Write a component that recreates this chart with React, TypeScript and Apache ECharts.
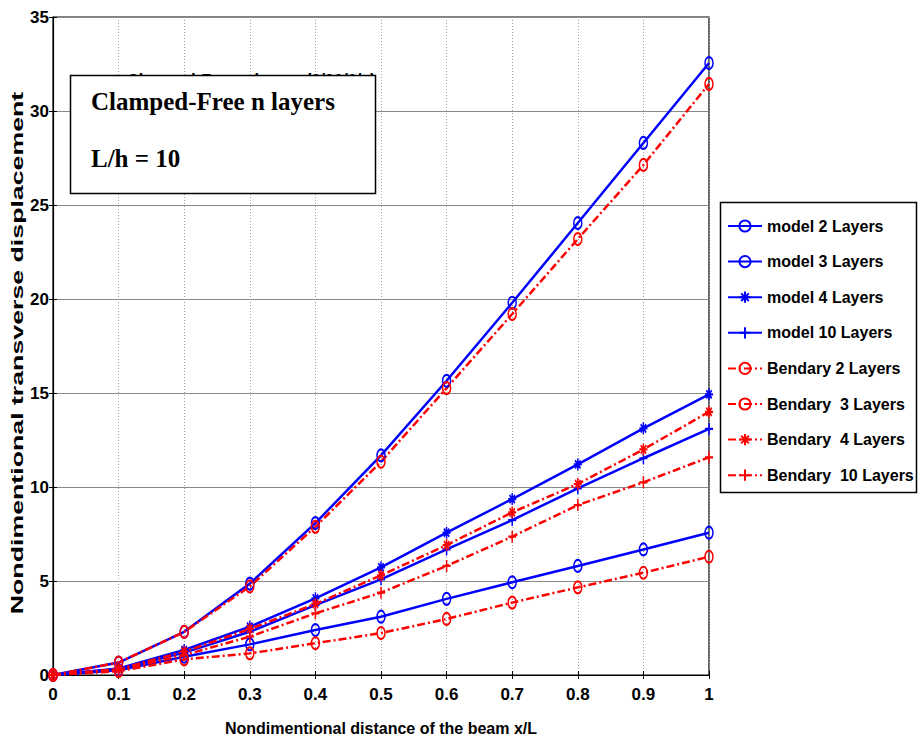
import React, { useEffect, useRef } from "react";
import * as echarts from "echarts";

// Nondimensional positions along the beam
const xPositions = [0, 0.1, 0.2, 0.3, 0.4, 0.5, 0.6, 0.7, 0.8, 0.9, 1];

// Transverse displacement, present model
const model2 = [0, 0.66, 2.3, 4.86, 8.08, 11.68, 15.65, 19.8, 24.04, 28.3, 32.55];
const model3 = [0, 0.25, 0.97, 1.63, 2.39, 3.1, 4.05, 4.93, 5.8, 6.68, 7.57];
const model4 = [0, 0.35, 1.33, 2.57, 4.08, 5.73, 7.57, 9.36, 11.2, 13.12, 14.93];
const model10 = [0, 0.3, 1.19, 2.3, 3.72, 5.09, 6.68, 8.24, 9.93, 11.53, 13.09];

// Transverse displacement, Bendary reference solution
const bendary2 = [0, 0.66, 2.29, 4.71, 7.88, 11.34, 15.26, 19.2, 23.19, 27.13, 31.44];
const bendary3 = [0, 0.2, 0.83, 1.15, 1.69, 2.23, 2.98, 3.85, 4.66, 5.44, 6.29];
const bendary4 = [0, 0.32, 1.24, 2.45, 3.78, 5.3, 6.91, 8.65, 10.16, 12.0, 14.0];
const bendary10 = [0, 0.27, 1.06, 2.04, 3.28, 4.38, 5.8, 7.36, 9.04, 10.25, 11.58];

const seriesNames = [
  "model 2 Layers",
  "model 3 Layers",
  "model 4 Layers",
  "model 10 Layers",
  "Bendary 2 Layers",
  "Bendary  3 Layers",
  "Bendary  4 Layers",
  "Bendary  10 Layers",
];

const SANS = '"Liberation Sans", Arial, sans-serif';
const SERIF = '"Liberation Serif", "Times New Roman", serif';

const CIRCLE = "path://M50,0A50,50,0,1,1,50,100A50,50,0,1,1,50,0Z";
const STAR = "path://M50,0L50,100M0,50L100,50M16,16L84,84M16,84L84,16";
const PLUS = "path://M50,0L50,100M0,50L100,50";

const BLUE = "#0000ff";
const RED = "#ff0000";

function makeSeries(name: string, values: number[], color: string, symbol: string, dashed: boolean) {
  return {
    name,
    type: "line",
    data: xPositions.map((x, i) => [x, values[i]]),
    symbol,
    symbolSize: [8, 12],
    showSymbol: true,
    lineStyle: { color, width: 2.5, type: dashed ? [8, 3, 2, 3] : "solid" },
    itemStyle: { color: "rgba(0,0,0,0)", borderColor: color, borderWidth: 1.8 },
    emphasis: { disabled: true },
  };
}

export default function App() {
  const ref = useRef<HTMLDivElement>(null);

  useEffect(() => {
    if (!ref.current) return;
    const chart = echarts.init(ref.current, undefined, { renderer: "svg" });

    const option = {
      animation: false,
      backgroundColor: "#ffffff",
      grid: {
        left: 53,
        right: 210,
        top: 17,
        bottom: 69,
        show: true,
        borderColor: "#000",
        borderWidth: 1.2,
        backgroundColor: "transparent",
      },
      xAxis: [
        {
          type: "value",
          min: 0,
          max: 1,
          interval: 0.1,
          axisLine: { show: true, lineStyle: { color: "#000", width: 1.2 } },
          axisTick: { show: true, inside: true, length: 4, lineStyle: { color: "#000" } },
          splitLine: { show: true, lineStyle: { color: "#a0a0a0", type: [1, 2], width: 1 } },
          axisLabel: {
            color: "#000",
            fontFamily: SANS,
            fontWeight: "bold",
            fontSize: 17,
            margin: 11,
            formatter: (v: number) => String(Math.round(v * 10) / 10),
          },
          name: "Nondimentional distance of the beam x/L",
          nameLocation: "middle",
          nameGap: 45,
          nameTextStyle: { color: "#000", fontFamily: SANS, fontWeight: "bold", fontSize: 16 },
        },
        {
          type: "value",
          position: "top",
          min: 0,
          max: 1,
          interval: 0.1,
          axisLine: { show: false },
          axisTick: { show: true, inside: true, length: 4, lineStyle: { color: "#000" } },
          axisLabel: { show: false },
          splitLine: { show: false },
        },
      ],
      yAxis: [
        {
          type: "value",
          min: 0,
          max: 35,
          interval: 5,
          axisLine: { show: true, lineStyle: { color: "#000", width: 1.2 } },
          axisTick: { show: true, inside: true, length: 4, lineStyle: { color: "#000" } },
          splitLine: { show: true, lineStyle: { color: "#8a8a8a", type: "solid", width: 1.2 } },
          axisLabel: {
            color: "#000",
            fontFamily: SANS,
            fontWeight: "bold",
            fontSize: 17,
            margin: 4,
          },
        },
        {
          type: "value",
          position: "right",
          min: 0,
          max: 35,
          interval: 5,
          axisLine: { show: false },
          axisTick: { show: true, inside: true, length: 4, lineStyle: { color: "#000" } },
          axisLabel: { show: false },
          splitLine: { show: false },
        },
      ],
      legend: {
        orient: "vertical",
        left: 727,
        top: 216,
        padding: 0,
        itemWidth: 34,
        itemHeight: 14,
        itemGap: 15.6,
        data: seriesNames,
        textStyle: {
          color: "#000",
          fontFamily: SANS,
          fontWeight: "bold",
          fontSize: 16,
          lineHeight: 20,
        },
        z: 10,
      },
      graphic: [
        {
          type: "text",
          x: 18,
          y: 353,
          rotation: Math.PI / 2,
          scaleX: 1.67,
          style: {
            text: "Nondimentional transverse displacement",
            fontFamily: SANS,
            fontWeight: "bold",
            fontSize: 16,
            fill: "#000",
            textAlign: "center",
            textVerticalAlign: "middle",
          },
        },
        {
          type: "text",
          x: 127,
          y: 81,
          z: 5,
          scaleX: 0.74,
          style: {
            text: "Clamped-Free n layers (0/90/0/..)",
            fontFamily: SANS,
            fontWeight: "bold",
            fontSize: 22,
            fill: "#000",
            textAlign: "left",
            textVerticalAlign: "middle",
          },
        },
        {
          type: "rect",
          z: 6,
          shape: { x: 70.5, y: 75.5, width: 305, height: 118 },
          style: { fill: "#fff", stroke: "#000", lineWidth: 1.5 },
        },
        {
          type: "text",
          z: 7,
          x: 91,
          y: 101.5,
          style: {
            text: "Clamped-Free n layers",
            fontFamily: SERIF,
            fontWeight: "bold",
            fontSize: 25,
            fill: "#000",
            textVerticalAlign: "middle",
          },
        },
        {
          type: "text",
          z: 7,
          x: 91,
          y: 158,
          style: {
            text: "L/h = 10",
            fontFamily: SERIF,
            fontWeight: "bold",
            fontSize: 25,
            fill: "#000",
            textVerticalAlign: "middle",
          },
        },
        {
          type: "rect",
          z: 6,
          shape: { x: 720.5, y: 202.5, width: 196, height: 290 },
          style: { fill: "#fff", stroke: "#000", lineWidth: 1.5 },
        },
      ],
      series: [
        makeSeries(seriesNames[0], model2, BLUE, CIRCLE, false),
        makeSeries(seriesNames[1], model3, BLUE, CIRCLE, false),
        makeSeries(seriesNames[2], model4, BLUE, STAR, false),
        makeSeries(seriesNames[3], model10, BLUE, PLUS, false),
        makeSeries(seriesNames[4], bendary2, RED, CIRCLE, true),
        makeSeries(seriesNames[5], bendary3, RED, CIRCLE, true),
        makeSeries(seriesNames[6], bendary4, RED, STAR, true),
        makeSeries(seriesNames[7], bendary10, RED, PLUS, true),
      ],
    };

    chart.setOption(option as any);
    return () => chart.dispose();
  }, []);

  return <div ref={ref} style={{ width: 919, height: 744, position: "absolute", left: 0, top: 0 }} />;
}
